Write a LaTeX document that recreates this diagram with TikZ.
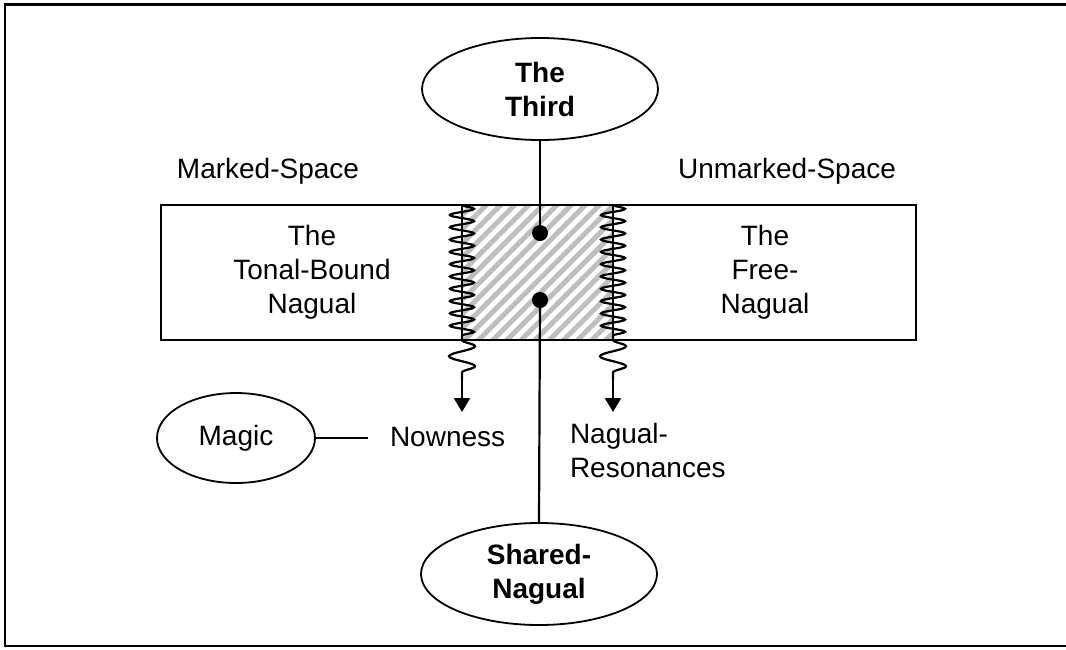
\documentclass[tikz,border=0pt]{standalone}
\usepackage{fontspec}
\setmainfont{Liberation Sans}
\usetikzlibrary{
  arrows.meta,
  shapes.geometric,
  decorations.pathmorphing,
  patterns.meta
}
\definecolor{ink}{HTML}{000000}
\definecolor{hatch}{HTML}{BEBEBE}
\tikzset{
  every node/.style={font=\fontsize{28}{34}\selectfont, text=ink, inner sep=0pt, outer sep=0pt},
  txt/.style={align=center},
  oval/.style={ellipse, draw=ink, line width=1.8pt, align=center, minimum width=236pt, minimum height=102pt},
  boldoval/.style={oval, font=\fontsize{28}{34}\selectfont\bfseries},
  spacebox/.style={draw=ink, line width=1.5pt, minimum width=755pt, minimum height=135pt},
  zone/.style={draw=ink, line width=1.5pt, minimum width=151pt, minimum height=135pt,
    pattern={Lines[angle=45, distance=10pt, line width=5pt]}, pattern color=hatch},
  dot/.style={circle, fill=ink, minimum size=16pt},
  link/.style={line width=2.2pt, draw=ink},
  thinlink/.style={line width=1.6pt, draw=ink},
  coilin/.style={decorate, decoration={snake, segment length=12.3pt, amplitude=12pt}, line width=2.2pt, draw=ink},
  coilout/.style={decorate, decoration={snake, segment length=20pt, amplitude=13pt}, line width=2.2pt, draw=ink},
  tip/.style={-{Triangle[width=16pt, length=14pt]}, line width=2.2pt, draw=ink}
}

\begin{document}
\begin{tikzpicture}[x=1pt, y=-1pt]
  \useasboundingbox (0,0) rectangle (1066,649);

  % frame
  \draw[line width=3pt] (4,4.7) -- (1066,4.7);
  \draw[line width=2pt] (5,3.2) -- (5,646);
  \draw[line width=2pt] (4,646) -- (1066,646);

  \node[spacebox] (space) at (538.5,272.5) {};
  \node[zone] (zone) at (537.5,272.5) {};

  \node[txt] (tonal) at (312,272) {The\\Tonal-Bound\\Nagual};
  \node[txt] (free) at (765,272) {The\\Free-\\Nagual};
  \node[txt, anchor=base] (marked) at (268,178) {Marked-Space};
  \node[txt, anchor=base] (unmarked) at (787,178) {Unmarked-Space};

  % waves at the edges of the zone
  \coordinate (lwend) at (462,380);
  \coordinate (lwtip) at (462,412);
  \coordinate (rwend) at (613,380);
  \coordinate (rwtip) at (613,412);
  \draw[coilin] (zone.north west) -- (zone.south west);
  \draw[coilout] (zone.south west) -- (lwend);
  \draw[tip] (lwend) -- (lwtip);
  \draw[coilin] (zone.north east) -- (zone.south east);
  \draw[coilout] (zone.south east) -- (rwend);
  \draw[tip] (rwend) -- (rwtip);

  \node[boldoval] (third) at (540,89) {The\\Third};
  \node[boldoval] (shared) at (539,574) {Shared-\\Nagual};
  \node[dot] (upper) at (540,233) {};
  \node[dot] (lower) at (540,300) {};
  \draw[link] (third.south) -- (upper.center);
  \draw[link] (lower.center) -- (shared.north);

  \node[oval, minimum width=158pt, minimum height=90pt] (magic) at (236,438) {Magic};
  \node[txt, anchor=base west] (nowness) at (390,446) {Nowness};
  \draw[thinlink, shorten >=22pt] (magic.east) -- (magic.east -| nowness.west);
  \node[align=left, anchor=north west] (resonances) at (570,423) {Nagual-\\Resonances};
\end{tikzpicture}
\end{document}
